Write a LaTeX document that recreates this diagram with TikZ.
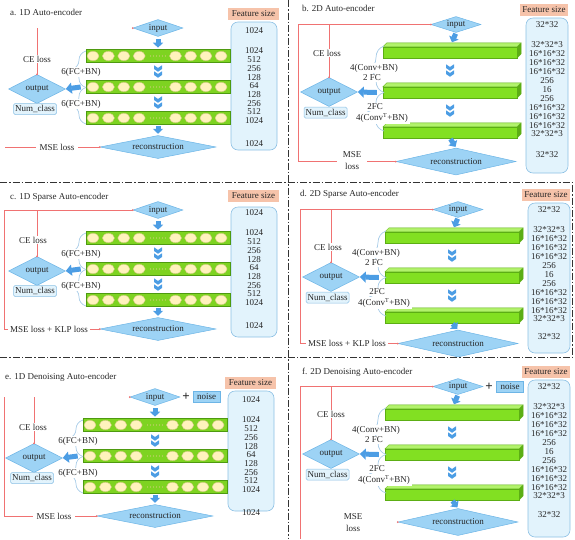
\documentclass[tikz,border=0pt]{standalone}
\usepackage{fontspec}
\setmainfont{Liberation Serif}
\usetikzlibrary{shapes.geometric,arrows.meta,decorations.pathreplacing,calc}
\definecolor{dia}{HTML}{9DD3F5}
\definecolor{diab}{HTML}{6DB5E6}
\definecolor{colf}{HTML}{E2F3FC}
\definecolor{colb}{HTML}{8CC0E4}
\definecolor{hdr}{HTML}{F6C3AA}
\definecolor{barg}{HTML}{7ED321}
\definecolor{bargb}{HTML}{4E9A10}
\definecolor{ell}{HTML}{FFF2BD}
\definecolor{ellb}{HTML}{D9CB86}
\definecolor{arr}{HTML}{4C9DE4}
\definecolor{brc}{HTML}{A8CCE8}
\definecolor{loss}{HTML}{F07272}
\definecolor{gtop}{HTML}{B2F26C}
\definecolor{gside}{HTML}{5CAE14}
\definecolor{gfront}{HTML}{82E022}
\tikzset{
 txt/.style={font=\fontsize{9}{9}\selectfont, inner sep=0pt, text=black!85},
 ttl/.style={txt, anchor=west},
 lbl/.style={txt, fill=white, inner ysep=1pt, inner xsep=2pt},
 dmd/.style={shape=diamond, draw=diab, fill=dia, line width=0.5pt, txt},
 hdrnode/.style={txt, fill=hdr, minimum height=12pt},
 colbox/.style={draw=colb, fill=colf, rounded corners=7pt, line width=0.6pt},
 numbox/.style={txt, draw=colb, fill=colf, rounded corners=1.5pt, minimum width=43pt, minimum height=11pt, line width=0.5pt},
 noisebox/.style={txt, draw=diab, fill=dia, minimum width=27pt, minimum height=11pt, line width=0.5pt},
 barone/.style={draw=bargb, fill=barg, minimum width=144pt, minimum height=13pt, inner sep=0pt, line width=0.6pt},
 bartwo/.style={draw=gside, fill=gfront, minimum width=134pt, minimum height=11pt, inner sep=0pt, line width=0.3pt},
 gtopst/.style={draw=gside, fill=gtop, line width=0.3pt},
 gsidest/.style={draw=gside, fill=gside, line width=0.3pt},
 ellip/.style={draw=ellb, fill=ell, line width=0.4pt},
 fat/.style={draw=arr, line width=5pt, -{Triangle[width=10pt,length=5pt]}},
 fatl/.style={draw=arr, line width=5pt, -{Triangle[width=11pt,length=6pt]}},
 redl/.style={draw=loss, line width=0.6pt},
 reddot/.style={fill=loss},
 bracestyle/.style={draw=brc, line width=0.7pt, decorate, decoration={brace, amplitude=#1}},
 divider/.style={draw=black!80, line width=0.6pt, dash pattern=on 7pt off 2pt on 1.5pt off 2pt},
 chev/.pic={
  \fill[arr] (-4,-6.25) -- (0,-3.5) -- (4,-6.25) -- (4,-2.5) -- (0,0.25) -- (-4,-2.5) -- cycle;
  \fill[arr] (-4,-0.25) -- (0,2.5) -- (4,-0.25) -- (4,3.5) -- (0,6.25) -- (-4,3.5) -- cycle;
 }
}
% 1D panel: #1 xshift, #2 yshift, #3 prefix, #4 column top, #5 column bottom
\newcommand\oneD[5]{%
\begin{scope}[shift={(#1,#2)}]
 \node[hdrnode, minimum width=51pt] (#3hd) at (253.5,14) {Feature size};
 \draw[colbox] (231,#4) rectangle (277,#5);
 \node[txt] (#3c0) at (254,31) {1024};
 \foreach \lab [count=\i] in {1024,512,256,128,64,128,256,512,1024}
   \node[txt] (#3c\i) at (254,{51+(\i-1)*8.7}) {\lab};
 \node[txt] (#3cz) at (254,144) {1024};
 \node[dmd, shape aspect=3, minimum width=50pt, minimum height=17pt] (#3in) at (158,28) {input};
 \foreach \k/\yy in {1/56,2/87,3/118} {
   \node[barone] (#3b\k) at (158,\yy) {};
   \foreach \ex in {93,108.4,123.8,139.2,175.5,190.7,205.9,221.1}
     \draw[ellip] (\ex,\yy) ellipse [x radius=6pt, y radius=4.6pt];
   \foreach \dx in {0,...,5}
     \fill[ellb] (150.5+3*\dx,\yy) circle [radius=0.6pt];
 }
 \draw[bracestyle=14pt] (86,87.5) -- (86,51);
 \draw[bracestyle=14pt] (86,124) -- (86,87.5);
 \node[lbl] (#3l1) at (81,72) {6(FC+BN)};
 \node[lbl] (#3l2) at (81,104) {6(FC+BN)};
 \node[dmd, shape aspect=5, minimum width=116pt, minimum height=23pt] (#3rec) at (158,147) {reconstruction};
 \node[dmd, shape aspect=2, minimum width=57pt, minimum height=29pt] (#3out) at (37,89) {output};
 \node[numbox] (#3num) at (35,109) {Num\_class};
 \draw[fat, shorten <=2.5pt, shorten >=1.5pt] (#3in.south) -- (#3b1.north);
 \path ($(#3b1.south)!0.5!(#3b2.north)$) pic {chev};
 \path ($(#3b2.south)!0.5!(#3b3.north)$) pic {chev};
 \draw[fat, shorten <=1pt, shorten >=1.5pt] (#3b3.south) -- (#3rec.north);
 \draw[fatl] ([xshift=-5pt]#3b2.west) -- (#3out.east);
\end{scope}}
% 2D panel: #1 xshift, #2 yshift, #3 prefix, #4 column bottom, #5 reconstruction y
\newcommand\twoD[5]{%
\begin{scope}[shift={(#1,#2)}]
 \node[hdrnode, minimum width=48pt] (#3hd) at (544,10) {Feature size};
 \draw[colbox] (526,18) rectangle (568,#4);
 \node[txt] (#3c0) at (547,25) {32*32};
 \foreach \lab [count=\i] in {32*32*3,16*16*32,16*16*32,16*16*32,256,16,256,16*16*32,16*16*32,16*16*32,32*32*3}
   \node[txt] (#3c\i) at (547,{45+(\i-1)*8.9}) {\lab};
 \node[txt] (#3cz) at (547,{#5-7}) {32*32};
 \node[dmd, shape aspect=3, minimum width=50pt, minimum height=16pt] (#3in) at (456,24.5) {input};
 \foreach \k/\yy in {1/52.5,2/92.5,3/132.5} {
   \node[bartwo] (#3b\k) at (450,\yy) {};
   \filldraw[gtopst] (#3b\k.north west) -- ++(4,-4) -- ++(134,0) -- (#3b\k.north east) -- cycle;
   \filldraw[gsidest] (#3b\k.north east) -- ++(4,-4) -- ++(0,11) -- (#3b\k.south east) -- cycle;
 }
 \draw[bracestyle=16pt] (384,92.5) -- (384,46);
 \draw[bracestyle=16pt] (384,131) -- (384,92.5);
 \node[lbl] (#3l1) at (374,68) {4(Conv+BN)};
 \node[lbl] (#3l2) at (372,78) {2 FC};
 \node[lbl] (#3l3) at (375,107) {2FC};
 \node[lbl] (#3l4) at (382,118) {4(Conv\textsuperscript{T}+BN)};
 \node[dmd, shape aspect=4.4, minimum width=120pt, minimum height=27pt] (#3rec) at (456,#5) {reconstruction};
 \node[dmd, shape aspect=2, minimum width=57pt, minimum height=29pt] (#3out) at (329,92) {output};
 \node[numbox] (#3num) at (325.5,112.5) {Num\_class};
 \draw[fat, shorten <=1pt, shorten >=5pt] (#3in.south) -- (#3b1.north);
 \path ($(#3b1.south)!0.5!(#3b2.north)+(0,-2)$) pic {chev};
 \path ($(#3b2.south)!0.5!(#3b3.north)+(0,-2)$) pic {chev};
 \draw[fat, shorten <=1pt, shorten >=1pt] (#3b3.south) -- (#3rec.north);
 \draw[fatl] ([xshift=-6pt]#3b2.west) -- (#3out.east);
\end{scope}}
\begin{document}
\begin{tikzpicture}[x=1pt,y=-1pt]
\useasboundingbox (0,0) rectangle (575,539);
% dividers
\draw[divider] (288,0) -- (288,539);
\draw[divider] (0,182) -- (572,182) -- (572,357.5) -- (0,357.5);
% ---------- a ----------
\node[ttl] (ttla) at (10,12) {a. 1D Auto-encoder};
\oneD{0}{0}{a}{22}{150}
\draw[redl] (aout.north |- ain.west) -- (aout.north);
\draw[redl] (5,0 |- arec.west) -- (arec.west);
\fill[reddot] (ain.west) circle (1pt);
\fill[reddot] (aout.north) circle (1pt);
\fill[reddot] (arec.west) circle (1pt);
\node[lbl] (acel) at (37,59) {CE loss};
\node[lbl, inner xsep=4pt] (amse) at (57,147) {MSE loss};
% ---------- b ----------
\node[ttl] (ttlb) at (302,8) {b. 2D Auto-encoder};
\twoD{0}{0}{b}{173}{161.5}
\draw[redl] (bin.west) -| (298,0 |- brec.west) -- (brec.west);
\draw[redl] (bout.north |- bin.west) -- (bout.north);
\fill[reddot] (bin.west) circle (1pt);
\fill[reddot] (bout.north) circle (1pt);
\fill[reddot] (brec.west) circle (1pt);
\node[lbl] (bcel) at (327,53) {CE loss};
\node[lbl, inner xsep=6pt, align=center] (bmse) at (352,161) {MSE\\[3pt]loss};
% ---------- c ----------
\node[ttl] (ttlc) at (10,197) {c. 1D Sparse Auto-encoder};
\oneD{0}{182}{c}{25}{155}
\draw[redl] (cin.west) -| (4,0 |- crec.west) -- (crec.west);
\draw[redl] (cout.north |- cin.west) -- (cout.north);
\fill[reddot] (cin.west) circle (1pt);
\fill[reddot] (cout.north) circle (1pt);
\fill[reddot] (crec.west) circle (1pt);
\node[lbl] (ccel) at (33,240) {CE loss};
\node[lbl, inner xsep=2.5pt] (cmse) at (49,329) {MSE loss + KLP loss};
% ---------- d ----------
\node[ttl] (ttld) at (300,194) {d. 2D Sparse Auto-encoder};
\twoD{2}{185}{d}{168}{158.5}
\draw[redl] (din.west) -| (300,0 |- drec.west) -- (drec.west);
\draw[redl] (dout.north |- din.west) -- (dout.north);
\fill[reddot] (din.west) circle (1pt);
\fill[reddot] (dout.north) circle (1pt);
\fill[reddot] (drec.west) circle (1pt);
\node[lbl] (dcel) at (328,247) {CE loss};
\node[lbl, inner xsep=2.5pt] (dmse) at (347,343.5) {MSE loss + KLP loss};
% ---------- e ----------
\node[ttl] (ttle) at (5,377) {e. 1D Denoising Auto-encoder};
\oneD{-3}{369}{e}{22}{142}
\node[txt, font=\fontsize{13}{13}\selectfont\bfseries] (eplus) at (186,397) {+};
\node[noisebox] (enoise) at (206.5,396.5) {noise};
\draw[redl] (4,0 |- ein.west) -- (4,0 |- erec.west) -- (erec.west);
\draw[redl] (eout.north |- ein.west) -- (eout.north);
\fill[reddot] (ein.west) circle (1pt);
\fill[reddot] (eout.north) circle (1pt);
\fill[reddot] (erec.west) circle (1pt);
\node[lbl] (ecel) at (33,427) {CE loss};
\node[lbl, inner xsep=4pt] (emse) at (54,516) {MSE loss};
% ---------- f ----------
\node[ttl] (ttlf) at (302,372) {f. 2D Denoising Auto-encoder};
\twoD{2}{362}{f}{175}{160}
\node[txt, font=\fontsize{13}{13}\selectfont\bfseries] (fplus) at (489,387) {+};
\node[noisebox] (fnoise) at (510,386.5) {noise};
\draw[redl] (fin.west) -| (300,539);
\draw[redl] (fout.north |- fin.west) -- (fout.north);
\fill[reddot] (fin.west) circle (1pt);
\fill[reddot] (fout.north) circle (1pt);
\fill[reddot] (frec.west) circle (1pt);
\node[lbl] (fcel) at (331,414) {CE loss};
\node[txt, align=center] (fmse) at (353,523) {MSE\\[3pt]loss};
\end{tikzpicture}
\end{document}
